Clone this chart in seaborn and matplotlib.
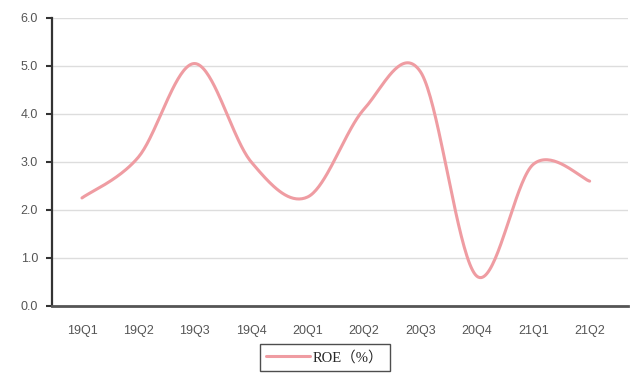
import numpy as np
import pandas as pd
import matplotlib
matplotlib.use("Agg")
import matplotlib.pyplot as plt
import seaborn as sns

quarters = ["19Q1", "19Q2", "19Q3", "19Q4", "20Q1", "20Q2", "20Q3", "20Q4", "21Q1", "21Q2"]
roe = [2.25, 3.1, 5.05, 3.0, 2.27, 4.1, 4.88, 0.62, 2.95, 2.6]
y_ticks = [0.0, 1.0, 2.0, 3.0, 4.0, 5.0, 6.0]
series_label = "ROE（%）"


def catmull_rom(values, steps=40):
    """Smooth curve through the points (Catmull-Rom, as in spreadsheet 'smoothed line')."""
    p = np.asarray(values, dtype=float)
    x = np.arange(len(p), dtype=float)
    pp = np.concatenate([[p[0]], p, [p[-1]]])
    xx = np.concatenate([[x[0]], x, [x[-1]]])
    xs, ys = [], []
    for i in range(1, len(pp) - 2):
        t = np.linspace(0, 1, steps, endpoint=(i == len(pp) - 3))
        for arr, out in ((xx, xs), (pp, ys)):
            p0, p1, p2, p3 = arr[i - 1], arr[i], arr[i + 1], arr[i + 2]
            out.append(0.5 * ((2 * p1) + (-p0 + p2) * t
                              + (2 * p0 - 5 * p1 + 4 * p2 - p3) * t ** 2
                              + (-p0 + 3 * p1 - 3 * p2 + p3) * t ** 3))
    return np.concatenate(xs), np.concatenate(ys)


sx, sy = catmull_rom(roe)
curve = pd.DataFrame({"pos": sx, "value": sy, "series": series_label})

sns.set_theme(style="white")
plt.rcParams["font.family"] = ["Liberation Sans", "DejaVu Sans"]

fig = plt.figure(figsize=(6.35, 3.74), dpi=100)
ax = fig.add_axes([0.082, 0.182, 0.907, 0.770])

sns.lineplot(data=curve, x="pos", y="value", hue="series", palette=["#EF9CA2"],
             linewidth=2.2, ax=ax, sort=False, estimator=None)

ax.set_xlim(-0.53, 9.68)
ax.set_ylim(0, 6)
ax.set_xticks(range(len(quarters)))
ax.set_xticklabels(quarters)
ax.set_yticks(y_ticks)
ax.set_yticklabels([f"{v:.1f}" for v in y_ticks])
ax.set_xlabel("")
ax.set_ylabel("")

ax.yaxis.grid(True, color="#DDDDDD", linewidth=1.0)
ax.set_axisbelow(True)
for side in ("top", "right"):
    ax.spines[side].set_visible(False)
ax.spines["left"].set_color("#333333")
ax.spines["left"].set_linewidth(1.6)
ax.spines["bottom"].set_color("#555555")
ax.spines["bottom"].set_linewidth(2.0)

ax.tick_params(axis="y", which="major", left=True, length=4, width=1.5, color="#333333",
               labelsize=9, labelcolor="#555555", pad=6)
ax.tick_params(axis="x", which="major", bottom=False, labelsize=9, labelcolor="#555555", pad=8)

handles, labels = ax.get_legend_handles_labels()
ax.legend(handles, labels, loc="upper center", bbox_to_anchor=(325 / 635, 1 - 344 / 374),
          bbox_transform=fig.transFigure, frameon=True, fancybox=False, edgecolor="#222222",
          prop={"family": ["Liberation Serif", "Noto Sans CJK SC"], "size": 10.5},
          handlelength=3.0, handletextpad=0.2, borderpad=0.45, borderaxespad=0)
leg = ax.get_legend()
leg.get_frame().set_linewidth(1.0)
leg._legend_box.sep = 0
leg.set_in_layout(False)
for txt in leg.get_texts():
    txt.set_text("ROE（%）")

fig.savefig("out.png", dpi=100, facecolor="white")
